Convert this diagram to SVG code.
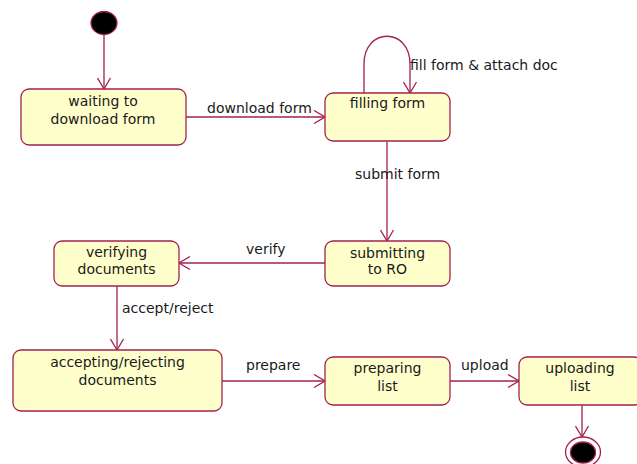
<svg xmlns="http://www.w3.org/2000/svg" width="637" height="464" viewBox="0 0 637 464">
  <style>
    .state rect { fill: #ffffcc; stroke: #a3224f; stroke-width: 1.3; }
    .state text, .lbl { font-family: "DejaVu Sans", "Liberation Sans", sans-serif; font-size: 14px; fill: #1a1a1a; }
    .state text { text-anchor: middle; }
    .edge { fill: none; stroke: #a3224f; stroke-width: 1.3; marker-end: url(#open); }
    .pseudo { fill: #000; stroke: #a3224f; stroke-width: 1.3; }
  </style>
  <defs>
    <marker id="open" markerUnits="userSpaceOnUse" viewBox="0 0 13 15" refX="12" refY="7.5" markerWidth="13" markerHeight="15" orient="auto">
      <path d="M1,1 L12,7.5 L1,14" fill="none" stroke="#a3224f" stroke-width="1.3"/>
    </marker>
  </defs>
  <rect width="637" height="464" fill="#ffffff"/>

  <!-- transitions -->
  <g id="connectors">
    <path class="edge" d="M104,35 L104,89"/>
    <path class="edge" d="M186,117 L325,117"/>
    <path class="edge" d="M364,93 L364,64 C364,27 410,27 410,64 L410,93"/>
    <path class="edge" d="M387,141 L387,241"/>
    <path class="edge" d="M325,263 L179,263"/>
    <path class="edge" d="M117,286 L117,350"/>
    <path class="edge" d="M222,381 L325,381"/>
    <path class="edge" d="M450,381 L519,381"/>
    <path class="edge" d="M582,405 L582,437"/>
    <text class="lbl" x="207" y="113">download form</text>
    <text class="lbl" x="410" y="70">fill form &amp; attach doc</text>
    <text class="lbl" x="355" y="179">submit form</text>
    <text class="lbl" x="246" y="254">verify</text>
    <text class="lbl" x="122" y="313">accept/reject</text>
    <text class="lbl" x="246" y="370">prepare</text>
    <text class="lbl" x="461" y="370">upload</text>
  </g>

  <!-- initial pseudo-state -->
  <g id="initial">
    <ellipse class="pseudo" cx="104" cy="23" rx="13" ry="11.5"/>
  </g>

  <g id="waiting" class="state">
    <rect x="21" y="89" width="165" height="56" rx="8"/>
    <text x="103" y="106">waiting to</text>
    <text x="103" y="124">download form</text>
  </g>

  <g id="filling" class="state">
    <rect x="325" y="93" width="125" height="48" rx="8"/>
    <text x="387.5" y="108">filling form</text>
  </g>

  <g id="submitting" class="state">
    <rect x="325" y="241" width="125" height="45" rx="8"/>
    <text x="387.5" y="258">submitting</text>
    <text x="387.5" y="274">to RO</text>
  </g>

  <g id="verifying" class="state">
    <rect x="54" y="241" width="125" height="45" rx="8"/>
    <text x="116.5" y="257">verifying</text>
    <text x="116.5" y="274">documents</text>
  </g>

  <g id="accepting" class="state">
    <rect x="13" y="350" width="209" height="61" rx="8"/>
    <text x="117.5" y="367">accepting/rejecting</text>
    <text x="117.5" y="385">documents</text>
  </g>

  <g id="preparing" class="state">
    <rect x="325" y="357" width="125" height="48" rx="8"/>
    <text x="387.5" y="373">preparing</text>
    <text x="387.5" y="391">list</text>
  </g>

  <g id="uploading" class="state">
    <rect x="519" y="357" width="123" height="48" rx="8"/>
    <text x="580" y="373">uploading</text>
    <text x="580" y="391">list</text>
  </g>

  <!-- final pseudo-state -->
  <g id="final">
    <ellipse cx="583" cy="452" rx="17.5" ry="15" fill="#ffffff" stroke="#a3224f" stroke-width="1.3"/>
    <ellipse class="pseudo" cx="583" cy="452.5" rx="12.5" ry="10.5"/>
  </g>
</svg>
